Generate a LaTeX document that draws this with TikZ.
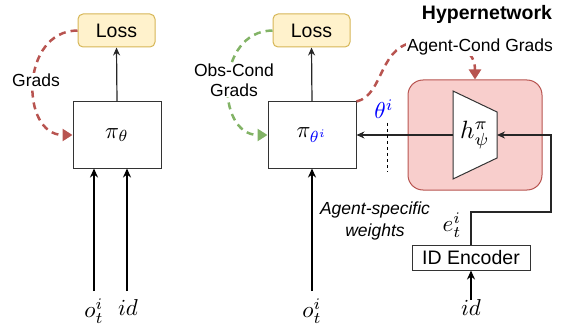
\documentclass[tikz,border=0pt]{standalone}
\usepackage{fontspec}
\setmainfont{Liberation Sans}
\usetikzlibrary{arrows.meta}
\definecolor{lossfill}{HTML}{FFF2CC}
\definecolor{lossdraw}{HTML}{D6B656}
\definecolor{redc}{HTML}{B85450}
\definecolor{pinkfill}{HTML}{F8CECC}
\definecolor{greenc}{HTML}{82B366}
\definecolor{thblue}{HTML}{0000FF}
\newcommand{\mth}[2][2.3]{\scalebox{#1}{$#2$}}
\begin{document}
\begin{tikzpicture}[x=1pt,y=-1pt,
  lossbox/.style={draw=lossdraw, fill=lossfill, rounded corners=5pt, minimum width=77pt, minimum height=33pt, inner sep=0pt, line width=1pt, font=\fontsize{19.5}{22}\selectfont},
  pibox/.style={draw=black!80, fill=white, minimum width=88pt, minimum height=66pt, inner sep=0pt, line width=1pt},
  encbox/.style={draw=black!80, fill=white, minimum width=118pt, minimum height=25pt, inner sep=0pt, line width=1pt, font=\fontsize{19.5}{22}\selectfont},
  hyperbox/.style={draw=redc, fill=pinkfill, rounded corners=15pt, minimum width=134pt, minimum height=110pt, inner sep=0pt, line width=1pt},
  arr/.style={-{Stealth[length=8pt,width=7pt]}, line width=1.2pt, black!85},
  inarr/.style={-{Stealth[length=9pt,width=8pt]}, line width=1.8pt, black},
  gradred/.style={draw=redc, line width=2.5pt, dash pattern=on 7pt off 5pt, -{Triangle[length=10pt,width=12pt]}},
  gradgreen/.style={draw=greenc, line width=2.5pt, dash pattern=on 7pt off 5pt, -{Triangle[length=10pt,width=12pt]}},
  lbl/.style={font=\fontsize{17.5}{20}\selectfont, inner sep=1pt},
  mlbl/.style={inner sep=0pt}
]
\useasboundingbox (0,0) rectangle (563,329);

% left part
\node[lossbox] (loss1) at (116.5,30.5) {Loss};
\node[pibox] (pi1) at (117,135) {\mth{\pi_\theta}};
\draw[arr] (pi1.north) -- (loss1.south);
\draw[gradred] (loss1.west) .. controls (20,31) and (20,135) .. (pi1.west);
\node[lbl, fill=white] (gr1) at (36,80) {Grads};
\node[mlbl] (o1) at (94,311) {\mth{o_t^i}};
\node[mlbl] (id1) at (128,308) {\mth{id}};
\coordinate (o1s) at (94,291);
\coordinate (id1s) at (127,291);
\draw[inarr] (o1s) -- (o1s |- pi1.south);
\draw[inarr] (id1s) -- (id1s |- pi1.south);

% right part
\node[lossbox] (loss2) at (311.5,30.5) {Loss};
\node[pibox] (pi2) at (312,135) {\mth{\pi_{\color{thblue}\theta^i}}};
\draw[arr] (pi2.north) -- (loss2.south);
\draw[gradgreen] (loss2.west) .. controls (215,31) and (215,135) .. (pi2.west);
\node[lbl, fill=white, align=center] (gr2) at (234,80) {Obs-Cond\\Grads};
\node[mlbl] (o2) at (312,311) {\mth{o_t^i}};
\coordinate (o2s) at (312,291);
\draw[inarr] (o2s) -- (pi2.south);

% hypernetwork
\node[font=\fontsize{19.5}{22}\selectfont\bfseries] (hyt) at (487,14) {Hypernetwork};
\node[hyperbox] (hyper) at (475,135) {};
\draw[fill=white, draw=black!80, line width=1pt] (453,91) -- (497,112) -- (497,158) -- (453,179) -- cycle;
\node[mlbl] (h) at (475,135) {\mth[2.5]{h^\pi_\psi}};
\coordinate (tl) at (453,135);
\coordinate (tr) at (497,135);
\draw[gradred] (pi2.north east) .. controls (385,95) and (378,42) .. (420,42) .. controls (462,42) and (475,52) .. (hyper.north);
\node[lbl, fill=white] (acg) at (480,47) {Agent-Cond Grads};

\draw[arr] (tl) -- (pi2.east);
\node[mlbl, text=thblue] (th) at (384,109) {\mth{\theta^i}};
\draw[dashed, line width=0.8pt] (387,123) -- (387,172);
\node[lbl, align=center, font=\fontsize{17.5}{22}\selectfont\itshape] (asw) at (375,221) {Agent-specific\\weights};

\node[encbox] (ide) at (471,257.5) {ID Encoder};
\coordinate (c1) at (551,212);
\draw[arr] (ide.north) |- (c1) |- (tr);
\node[mlbl] (e) at (452,225) {\mth{e_t^i}};
\node[mlbl] (id2) at (471,308) {\mth{id}};
\coordinate (id2s) at (471,300);
\draw[inarr] (id2s) -- (ide.south);
\end{tikzpicture}
\end{document}
